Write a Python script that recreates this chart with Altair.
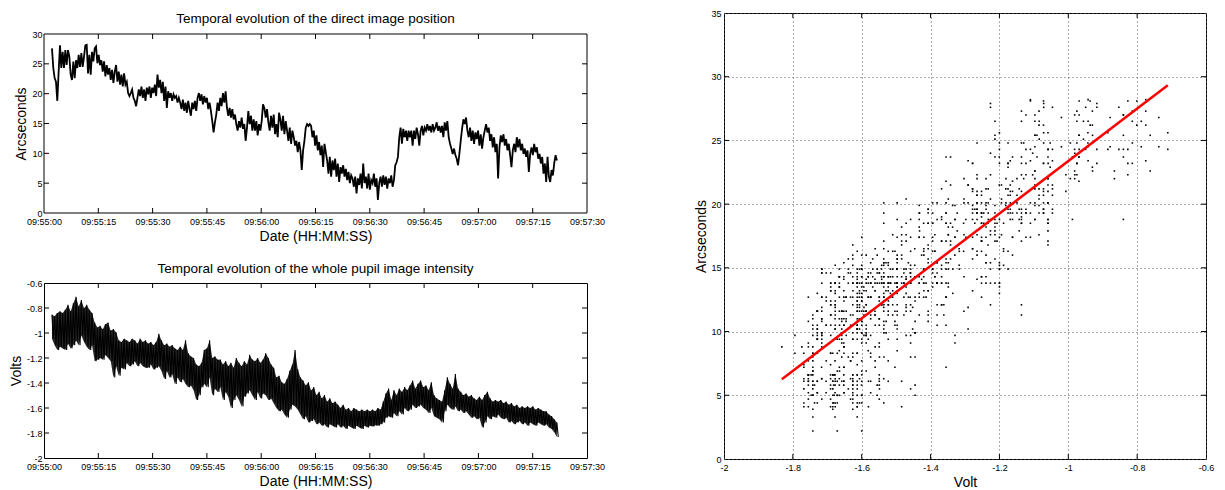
import altair as alt
import pandas as pd

FONT = "Liberation Sans"

# ---- sampling of the two records (seconds after 09:55:00) ----
T0 = 2.2
DT_POS = 0.369
DT_VOLT = 0.738

# direct image position (arcseconds)
ARCSEC = [
    27.6, 24.3, 22.6, 22.0, 18.8, 23.7, 28.1, 24.3, 27.0, 24.3,
    27.3, 24.8, 27.3, 26.2, 23.2, 22.3, 25.4, 22.6, 25.6, 24.3,
    26.5, 24.5, 26.8, 24.5, 26.2, 28.1, 28.2, 23.4, 26.5, 23.2,
    27.0, 25.4, 27.6, 27.9, 25.1, 26.5, 24.8, 25.6, 23.7, 25.4,
    22.9, 24.8, 23.2, 24.3, 22.3, 24.0, 21.8, 23.7, 24.8, 22.0,
    23.7, 21.5, 23.2, 21.2, 23.4, 21.5, 22.0, 20.1, 19.6, 20.1,
    20.7, 19.3, 18.8, 17.9, 19.3, 20.7, 19.6, 21.2, 19.3, 20.7,
    18.8, 21.0, 19.9, 21.2, 19.3, 21.0, 20.1, 21.5, 19.6, 23.2,
    21.0, 22.3, 20.1, 22.0, 18.8, 21.2, 17.6, 20.4, 19.3, 20.1,
    18.8, 19.9, 19.3, 19.6, 18.5, 19.3,
    18.5, 17.4, 19.0, 17.1, 18.5, 16.8, 18.8, 17.4, 16.3, 18.5,
    17.4, 18.8, 17.1, 19.3, 20.1, 18.8, 19.9, 18.2, 19.6, 18.5,
    19.3, 17.4, 18.5, 17.1, 15.4, 13.5, 15.2, 16.5, 18.5, 17.1,
    19.3, 17.9, 20.1, 18.5, 20.4, 17.6, 16.3, 17.6, 16.0, 17.4,
    15.7, 16.5, 14.9, 13.8, 15.4, 14.3, 16.0, 14.1, 14.9, 12.1,
    14.3, 17.1, 14.9, 16.3, 13.8, 15.7, 13.8, 15.4, 13.0, 14.9,
    13.8, 15.4, 18.2, 17.6, 16.0, 17.4, 15.2, 13.8, 16.3, 14.3,
    16.5, 13.2, 14.9, 12.7, 16.8, 15.7, 13.8, 16.3, 13.2, 15.4,
    13.8, 12.1, 14.3, 11.6, 13.8, 12.7, 11.3, 12.1, 10.2, 11.9,
    10.5, 7.2, 10.5, 12.1, 14.3, 14.9, 14.6,
    14.9, 14.6, 12.7, 13.8, 11.3, 13.0, 10.5, 11.9, 9.7, 11.3,
    7.7, 11.6, 10.2, 8.8, 6.6, 9.4, 6.1, 8.8, 7.2, 9.1,
    6.1, 8.3, 5.2, 7.7, 6.6, 8.0, 6.1, 7.4, 5.5, 6.9,
    5.0, 6.3, 5.8, 4.4, 6.1, 3.3, 5.8, 4.7, 6.6, 4.1,
    8.3, 5.0, 6.1, 4.1, 6.6, 3.9, 5.5, 5.0, 6.6, 4.4,
    5.8, 2.2, 5.0, 6.1, 4.4, 6.3, 4.7, 6.1, 4.1, 5.8,
    5.0, 6.3, 4.4, 5.5, 8.0, 8.5, 9.4, 12.7, 14.3, 11.6,
    14.1, 12.7, 13.8, 12.1, 13.8, 12.7, 13.8, 11.3, 13.8, 12.4,
    14.3, 13.2, 11.3, 13.8, 14.6, 13.0, 14.3, 13.8, 14.9, 13.8,
    14.6, 13.5, 14.9, 13.8, 14.3, 15.2, 13.8, 14.6,
    13.5, 14.6, 12.7, 15.2, 13.8, 15.4, 12.7, 11.6, 10.8, 9.9,
    10.8, 9.7, 9.1, 8.0, 9.9, 12.1, 14.1, 15.7, 14.9, 16.0,
    13.8, 12.7, 14.3, 12.1, 13.8, 11.6, 13.5, 12.4, 13.8, 11.3,
    13.2, 10.8, 12.7, 13.8, 14.9, 13.5, 14.3, 12.1, 13.2, 11.0,
    12.7, 10.2, 11.6, 5.8, 11.0, 13.0, 11.9, 13.2, 11.3, 12.4,
    10.5, 11.6, 9.7, 7.7, 10.5, 11.6, 10.2, 12.7, 11.0, 12.4,
    10.5, 11.6, 9.9, 10.8, 9.4, 10.5, 6.9, 9.9, 11.0, 9.7,
    11.6, 10.2, 11.0, 9.1, 9.9, 8.3, 9.4, 6.6, 8.3, 5.2,
    9.4, 6.1, 5.2, 7.2, 6.3, 8.3, 9.7, 8.8,
]

# whole pupil intensity (volts): upper and lower swing of the noisy signal
VOLT_HI = [
    -0.853, -0.866, -0.840, -0.827, -0.840, -0.814, -0.775, -0.827, -0.762, -0.711,
    -0.788, -0.737, -0.801, -0.775, -0.814, -0.840, -0.917, -0.956, -0.943, -0.969,
    -0.930, -0.917, -0.981, -0.969, -0.994, -1.059, -1.072, -1.046, -1.059, -1.072,
    -1.046, -1.059, -1.085, -1.046, -1.072, -1.059, -1.085, -1.072, -1.097, -1.072,
    -1.007, -1.059, -1.097, -1.085, -1.110, -1.097, -1.123, -1.136, -1.110, -1.136,
    -1.059, -1.162, -1.188, -1.200, -1.252, -1.265, -1.239, -1.136, -1.123, -1.059,
    -1.200, -1.188, -1.213,
    -1.213, -1.252, -1.226, -1.265, -1.239, -1.278, -1.200, -1.239, -1.265, -1.226,
    -1.252, -1.175, -1.213, -1.226, -1.200, -1.239, -1.213, -1.162, -1.200, -1.252,
    -1.278, -1.355, -1.342, -1.394, -1.407, -1.368, -1.303, -1.252, -1.136, -1.291,
    -1.355, -1.381, -1.420, -1.394, -1.459, -1.433, -1.497, -1.471, -1.523, -1.497,
    -1.549, -1.523, -1.561, -1.549, -1.574, -1.600, -1.574, -1.613, -1.600, -1.626,
    -1.600, -1.613, -1.626, -1.613, -1.626, -1.613, -1.626, -1.613, -1.626, -1.600,
    -1.613, -1.549, -1.484, -1.445,
    -1.536, -1.458, -1.497, -1.445, -1.471, -1.433, -1.458, -1.420, -1.381, -1.445,
    -1.407, -1.381, -1.433, -1.420, -1.458, -1.394, -1.497, -1.523, -1.536, -1.549,
    -1.458, -1.355, -1.407, -1.445, -1.329, -1.445, -1.471, -1.497, -1.484, -1.510,
    -1.497, -1.523, -1.536, -1.510, -1.536, -1.497, -1.471, -1.523, -1.549, -1.536,
    -1.549, -1.536, -1.561, -1.549, -1.574, -1.561, -1.587, -1.574, -1.600, -1.587,
    -1.600, -1.587, -1.600, -1.587, -1.613, -1.600, -1.613, -1.626, -1.626, -1.652,
    -1.665, -1.690, -1.716,
]
VOLT_LO = [
    -1.046, -1.097, -1.136, -1.110, -1.123, -1.136, -1.085, -1.123, -1.097, -1.059,
    -1.097, -1.020, -1.072, -1.110, -1.136, -1.097, -1.226, -1.213, -1.200, -1.213,
    -1.175, -1.200, -1.226, -1.355, -1.265, -1.342, -1.278, -1.291, -1.239, -1.265,
    -1.252, -1.226, -1.265, -1.239, -1.265, -1.278, -1.278, -1.252, -1.291, -1.278,
    -1.265, -1.303, -1.368, -1.303, -1.355, -1.329, -1.407, -1.355, -1.394, -1.368,
    -1.407, -1.433, -1.420, -1.458, -1.536, -1.497, -1.433, -1.407, -1.433, -1.355,
    -1.497, -1.446, -1.471,
    -1.432, -1.536, -1.471, -1.510, -1.600, -1.536, -1.497, -1.536, -1.587, -1.510,
    -1.484, -1.458, -1.497, -1.536, -1.471, -1.523, -1.484, -1.497, -1.536, -1.523,
    -1.561, -1.600, -1.626, -1.613, -1.652, -1.677, -1.613, -1.574, -1.587, -1.613,
    -1.652, -1.690, -1.665, -1.716, -1.703, -1.690, -1.729, -1.716, -1.742, -1.729,
    -1.755, -1.729, -1.742, -1.755, -1.729, -1.755, -1.742, -1.768, -1.742, -1.755,
    -1.768, -1.742, -1.755, -1.768, -1.742, -1.755, -1.742, -1.747, -1.737, -1.742,
    -1.729, -1.716, -1.677, -1.665,
    -1.677, -1.639, -1.665, -1.626, -1.652, -1.600, -1.626, -1.613, -1.574, -1.600,
    -1.587, -1.574, -1.600, -1.613, -1.639, -1.600, -1.665, -1.677, -1.690, -1.716,
    -1.626, -1.574, -1.600, -1.613, -1.587, -1.626, -1.613, -1.639, -1.626, -1.652,
    -1.677, -1.665, -1.690, -1.677, -1.755, -1.716, -1.665, -1.690, -1.665, -1.677,
    -1.652, -1.677, -1.690, -1.677, -1.716, -1.703, -1.729, -1.716, -1.703, -1.729,
    -1.716, -1.742, -1.716, -1.729, -1.742, -1.716, -1.729, -1.742, -1.729, -1.755,
    -1.768, -1.794, -1.832,
]

TIME_TICKS = [0, 15, 30, 45, 60, 75, 90, 105, 120, 135, 150]
TIME_LABELS = ["09:55:00", "09:55:15", "09:55:30", "09:55:45", "09:56:00", "09:56:15",
               "09:56:30", "09:56:45", "09:57:00", "09:57:15", "09:57:30"]
ARC_TICKS = [0, 5, 10, 15, 20, 25, 30]
VOLT_TICKS = [-2, -1.8, -1.6, -1.4, -1.2, -1, -0.8, -0.6]
SC_X_TICKS = [-2, -1.8, -1.6, -1.4, -1.2, -1, -0.8, -0.6]
SC_Y_TICKS = [0, 5, 10, 15, 20, 25, 30, 35]

TITLE_TOP = "Temporal evolution of the direct image position"
TITLE_BOTTOM = "Temporal evolution of the whole pupil image intensity"

# ---- tables ----
pos_df = pd.DataFrame({"t": [T0 + i * DT_POS for i in range(len(ARCSEC))], "a": ARCSEC})
# the intensity signal swings between its upper and lower value within each sample step
zt, zv = [], []
for j in range(len(VOLT_HI)):
    zt += [T0 + j * DT_VOLT, T0 + (j + 0.5) * DT_VOLT]
    zv += [VOLT_HI[j], VOLT_LO[j]]
volt_df = pd.DataFrame({"t": zt, "v": zv})
volt_band = pd.DataFrame({"t": [T0 + j * DT_VOLT for j in range(len(VOLT_HI))],
                          "hi": VOLT_HI, "lo": VOLT_LO})
# scatter: each position sample against the intensity swing at the same instant
sx, sy = [], []
for i, a in enumerate(ARCSEC):
    j = i // 2
    if j < len(VOLT_LO):
        lo, hi = VOLT_LO[j], VOLT_HI[j]
        sx += [lo, (lo + hi) / 2, hi]
        sy += [a, a, a]
sc_df = pd.DataFrame({"v": sx, "a": sy})
one = pd.DataFrame({"k": [0]})

W_L = 543
H_TV, TOP_PAD = 200, 21        # top-left view is taller; plot frame starts TOP_PAD below
H_B = 175
W_R, H_R = 482, 446
TL = 5

time_expr = "[" + ",".join("'%s'" % s for s in TIME_LABELS) + "][round(datum.value/15)]"
num_expr = "'' + datum.value"


def tick_rules(xvals, yvals, xscale, yscale, xaxis, yaxis, w, y_top, y_bot):
    xt = pd.DataFrame({"v": xvals})
    yt = pd.DataFrame({"v": yvals})
    base_x = alt.Chart(xt).mark_rule(color="black", strokeWidth=1)
    base_y = alt.Chart(yt).mark_rule(color="black", strokeWidth=1)
    return [
        base_x.encode(x=alt.X("v:Q", scale=xscale, axis=xaxis), y=alt.value(y_bot), y2=alt.value(y_bot - TL)),
        base_x.encode(x=alt.X("v:Q", scale=xscale, axis=xaxis), y=alt.value(y_top), y2=alt.value(y_top + TL)),
        base_y.encode(y=alt.Y("v:Q", scale=yscale, axis=yaxis), x=alt.value(0), x2=alt.value(TL)),
        base_y.encode(y=alt.Y("v:Q", scale=yscale, axis=yaxis), x=alt.value(w - TL), x2=alt.value(w)),
    ]


tscale = alt.Scale(domain=[0, 150], nice=False, zero=False)
xaxis_t = alt.Axis(values=TIME_TICKS, labelExpr=time_expr, title="Date (HH:MM:SS)",
                   labelPadding=4, titlePadding=3)

# ---- top panel (frame drawn by rules so the view can reach the top of the page) ----
ascale = alt.Scale(domain=[0, 30], range=[H_TV, TOP_PAD], nice=False, zero=False)
yaxis_a = alt.Axis(values=ARC_TICKS, labelExpr=num_expr, title="Arcseconds",
                   labelPadding=2, titlePadding=3, titleY=(H_TV + TOP_PAD) / 2)
top_line = alt.Chart(pos_df).mark_line(color="black", strokeWidth=1.8).encode(
    x=alt.X("t:Q", scale=tscale, axis=xaxis_t),
    y=alt.Y("a:Q", scale=ascale, axis=yaxis_a),
)
frame_c = alt.Chart(one).mark_rule(color="black", strokeWidth=1)
frame = [
    frame_c.encode(x=alt.value(0), x2=alt.value(W_L), y=alt.value(TOP_PAD)),
    frame_c.encode(x=alt.value(0), x2=alt.value(W_L), y=alt.value(H_TV)),
    frame_c.encode(x=alt.value(0), y=alt.value(TOP_PAD), y2=alt.value(H_TV)),
    frame_c.encode(x=alt.value(W_L), y=alt.value(TOP_PAD), y2=alt.value(H_TV)),
]
top_title = alt.Chart(pd.DataFrame({"s": [TITLE_TOP]})).mark_text(
    font=FONT, fontSize=13.5, color="black", align="center", baseline="middle"
).encode(x=alt.value(W_L / 2), y=alt.value(6), text="s:N")
top = alt.layer(
    top_line, *frame, top_title,
    *tick_rules(TIME_TICKS[1:-1], ARC_TICKS[1:-1], tscale, ascale, xaxis_t, yaxis_a, W_L, TOP_PAD, H_TV),
).properties(width=W_L, height=H_TV, view=alt.ViewBackground(strokeOpacity=0))

# ---- bottom panel ----
vscale = alt.Scale(domain=[-2, -0.6], nice=False, zero=False)
yaxis_v = alt.Axis(values=VOLT_TICKS, labelExpr=num_expr, title="Volts",
                   labelPadding=2, titlePadding=3)
band = alt.Chart(volt_band).mark_area(color="black", opacity=0.85).encode(
    x=alt.X("t:Q", scale=tscale, axis=xaxis_t),
    y=alt.Y("hi:Q", scale=vscale, axis=yaxis_v),
    y2="lo:Q",
)
zig = alt.Chart(volt_df).mark_line(color="black", strokeWidth=1.1).encode(
    x=alt.X("t:Q", scale=tscale, axis=xaxis_t),
    y=alt.Y("v:Q", scale=vscale, axis=yaxis_v),
)
bottom = alt.layer(
    band, zig, *tick_rules(TIME_TICKS[1:-1], VOLT_TICKS[1:-1], tscale, vscale, xaxis_t, yaxis_v, W_L, 0, H_B)
).properties(
    width=W_L, height=H_B,
    title=alt.TitleParams(TITLE_BOTTOM, anchor="middle", offset=4),
)

# ---- scatter panel ----
sxscale = alt.Scale(domain=[-2, -0.6], nice=False, zero=False)
syscale = alt.Scale(domain=[0, 35], nice=False, zero=False)
xaxis_s = alt.Axis(values=SC_X_TICKS, labelExpr=num_expr, title="Volt", grid=True,
                   gridDash=[1, 3], gridColor="#555555", labelPadding=4, titlePadding=3)
yaxis_s = alt.Axis(values=SC_Y_TICKS, labelExpr=num_expr, title="Arcseconds", grid=True,
                   gridDash=[1, 3], gridColor="#555555", labelPadding=3, titlePadding=2)
pts = alt.Chart(sc_df).mark_square(size=2.5, color="black", opacity=1).encode(
    x=alt.X("v:Q", scale=sxscale, axis=xaxis_s),
    y=alt.Y("a:Q", scale=syscale, axis=yaxis_s),
)
fit = alt.Chart(sc_df).transform_regression("v", "a").mark_line(color="#ff0000", strokeWidth=2.5).encode(
    x=alt.X("v:Q", scale=sxscale, axis=xaxis_s), y=alt.Y("a:Q", scale=syscale, axis=yaxis_s)
)
right = alt.layer(
    pts, fit, *tick_rules(SC_X_TICKS[1:-1], SC_Y_TICKS[1:-1], sxscale, syscale, xaxis_s, yaxis_s, W_R, 0, H_R)
).properties(width=W_R, height=H_R)

left = alt.vconcat(top, bottom, spacing=18)
chart = alt.hconcat(left, right, spacing=88).properties(
    padding={"left": 0, "top": 0, "right": 0, "bottom": 0}
).configure_view(stroke="black", strokeWidth=1).configure_axis(
    labelFont=FONT, titleFont=FONT, labelFontSize=9, titleFontSize=14, titleFontWeight="normal",
    labelColor="black", titleColor="black", ticks=False, domain=False, grid=False,
    labelFlush=False, labelOverlap=False,
).configure_title(font=FONT, fontSize=13.5, fontWeight="normal", color="black")

chart.save("out.html", embed_options={"renderer": "svg", "actions": False})
